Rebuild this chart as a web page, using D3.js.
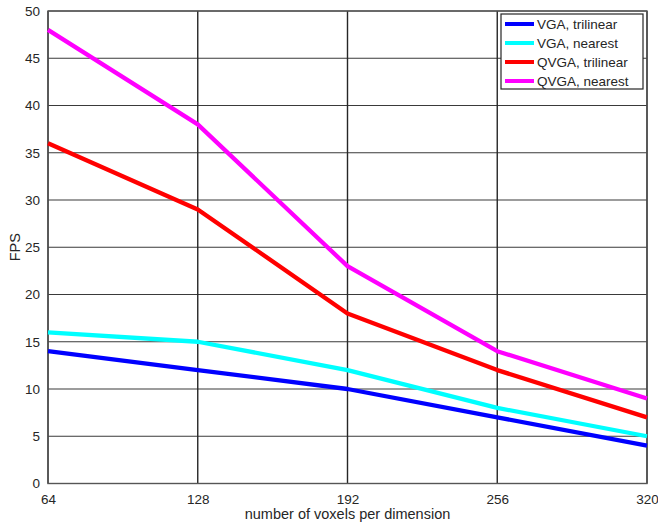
<!DOCTYPE html>
<html>
<head>
<meta charset="utf-8">
<script src="https://cdn.jsdelivr.net/npm/d3@7"></script>
<style>
	body { margin: 0; background: #fff; }
	svg text { font-family: "Liberation Sans", Arial, sans-serif; fill: #262626; }
</style>
</head>
<body>
<svg id="chart" width="658" height="523"></svg>
<script>
var voxels = [64, 128, 192, 256, 320];
var seriesNames = ["VGA, trilinear", "VGA, nearest", "QVGA, trilinear", "QVGA, nearest"];
var seriesColors = ["#0000ff", "#00ffff", "#ff0000", "#ff00ff"];
var vgaTrilinear = [14, 12, 10, 7, 4];
var vgaNearest = [16, 15, 12, 8, 5];
var qvgaTrilinear = [36, 29, 18, 12, 7];
var qvgaNearest = [48, 38, 23, 14, 9];
var yTicks = [0, 5, 10, 15, 20, 25, 30, 35, 40, 45, 50];

var margin = {top: 11, right: 11, bottom: 39.5, left: 48};
var svg = d3.select("#chart"),
	width = 658 - margin.left - margin.right,
	height = 523 - margin.top - margin.bottom;

var x = d3.scaleLinear().domain([64, 320]).range([0, width]);
var y = d3.scaleLinear().domain([0, 50]).range([height, 0]);

var g = svg.append("g")
	.attr("transform", "translate(" + margin.left + "," + margin.top + ")");

// grid
g.append("g").selectAll("line")
	.data(yTicks)
	.enter().append("line")
	.attr("x1", 0).attr("x2", width)
	.attr("y1", function(d) { return y(d); })
	.attr("y2", function(d) { return y(d); })
	.attr("stroke", "#3a3a3a")
	.attr("stroke-width", 1.2);

g.append("g").selectAll("line")
	.data(voxels)
	.enter().append("line")
	.attr("y1", 0).attr("y2", height)
	.attr("x1", function(d) { return x(d); })
	.attr("x2", function(d) { return x(d); })
	.attr("stroke", "#262626")
	.attr("stroke-width", 1.4);

// frame
g.append("rect")
	.attr("width", width).attr("height", height)
	.attr("fill", "none")
	.attr("stroke", "#555")
	.attr("stroke-width", 1.4);

// tick labels
var xAxis = g.append("g")
	.attr("transform", "translate(0," + height + ")")
	.call(d3.axisBottom(x).tickValues(voxels).tickSize(0).tickPadding(11));
var yAxis = g.append("g")
	.call(d3.axisLeft(y).tickValues(yTicks).tickSize(0).tickPadding(8));
[xAxis, yAxis].forEach(function(a) {
	a.select(".domain").remove();
	a.selectAll("text").attr("font-size", 13.5).attr("fill", "#262626")
		.attr("font-family", "Liberation Sans, Arial, sans-serif");
});

// axis labels
svg.append("text")
	.attr("x", margin.left + width / 2)
	.attr("y", 519)
	.attr("text-anchor", "middle")
	.attr("font-size", 14.5)
	.text("number of voxels per dimension");
svg.append("text")
	.attr("transform", "translate(20," + (margin.top + height / 2) + ") rotate(-90)")
	.attr("text-anchor", "middle")
	.attr("font-size", 14.5)
	.text("FPS");

// lines
var seriesData = [vgaTrilinear, vgaNearest, qvgaTrilinear, qvgaNearest];
var line = d3.line()
	.x(function(d, i) { return x(voxels[i]); })
	.y(function(d) { return y(d); });

g.selectAll(".series")
	.data(seriesData)
	.enter().append("path")
	.attr("class", "series")
	.attr("d", function(d) { return line(d); })
	.attr("fill", "none")
	.attr("stroke", function(d, i) { return seriesColors[i]; })
	.attr("stroke-width", 4.3)
	.attr("stroke-linejoin", "round");

// legend
var legend = svg.append("g").attr("transform", "translate(501,14)");
legend.append("rect")
	.attr("width", 142).attr("height", 75)
	.attr("fill", "#fff")
	.attr("stroke", "#262626")
	.attr("stroke-width", 1.2);
var items = legend.selectAll(".item")
	.data(seriesNames)
	.enter().append("g")
	.attr("class", "item")
	.attr("transform", function(d, i) { return "translate(0," + (10 + i * 19) + ")"; });
items.append("line")
	.attr("x1", 4).attr("x2", 33)
	.attr("stroke", function(d, i) { return seriesColors[i]; })
	.attr("stroke-width", 4);
items.append("text")
	.attr("x", 36)
	.attr("dy", "0.35em")
	.attr("font-size", 13.5)
	.text(function(d) { return d; });
</script>
</body>
</html>
